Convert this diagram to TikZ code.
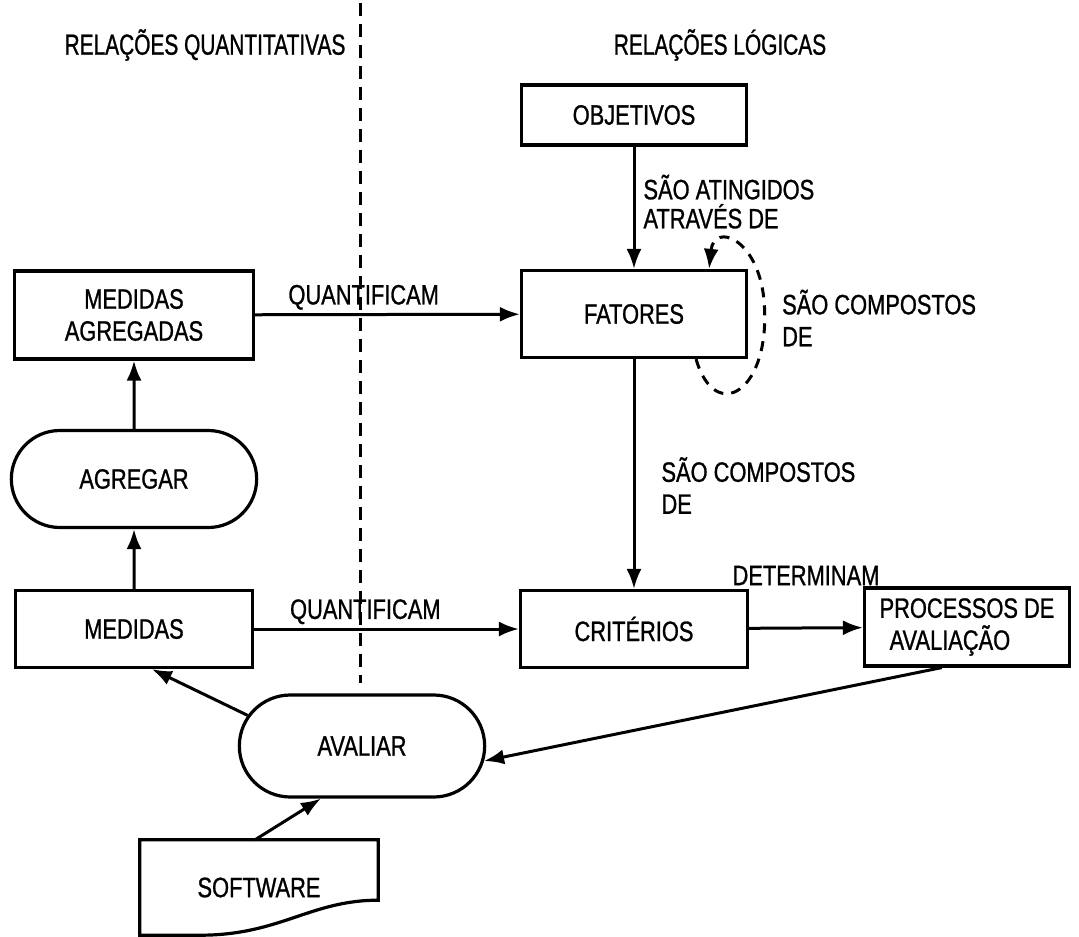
\documentclass[tikz,border=0pt]{standalone}
\usepackage{fontspec}
\setmainfont{Liberation Sans}[FakeStretch=0.78,FakeBold=0.9]
\newfontfamily\headfont{Liberation Sans}[FakeStretch=0.72,FakeBold=0.9]
\usetikzlibrary{arrows.meta,positioning,shapes.misc,calc}

\begin{document}
\begin{tikzpicture}[x=1pt,y=1pt,>=Latex,
      font=\fontsize{28}{32}\selectfont,
      box/.style={draw,line width=3.2pt,align=center,inner sep=3pt},
      proc/.style={draw,rounded rectangle,line width=3.2pt,align=center,
                   minimum width=252pt},
      rel/.style={-{Latex[length=20pt,width=15pt]},line width=3pt},
      lbl/.style={align=left,inner sep=2pt},
      head/.style={font=\headfont\fontsize{29}{32}\selectfont},
      divider/.style={line width=3pt,dash pattern=on 13pt off 8pt},
      selfloop/.style={rel,dash pattern=on 10pt off 8pt}]
    \useasboundingbox (0,0) rectangle (1079,-937);
    \node[head] (hquant) at (205,-45) {RELAÇÕES QUANTITATIVAS};
    \node[head] (hlog) at (720,-45) {RELAÇÕES LÓGICAS};
    \draw[divider] (360,-3) -- (360,-683);

    % coluna logica
    \node[box,minimum width=225pt,minimum height=60pt] (objetivos) at (634,-115) {OBJETIVOS};
    \node[box,minimum width=225pt,minimum height=87pt] (fatores) at (634,-314) {FATORES};
    \node[box,minimum width=227pt,minimum height=77pt] (criterios) at (634,-629) {CRITÉRIOS};
    \node[box,minimum width=205pt,minimum height=78pt,align=left] (processos) at (967,-627)
         {PROCESSOS DE\\\hspace*{10pt}AVALIAÇÃO};
    \draw[rel] (objetivos) -- node[lbl,right=6pt,pos=.45,font=\fontsize{28}{29}\selectfont]
         {SÃO ATINGIDOS\\ATRAVÉS DE} (fatores);
    \draw[rel] (fatores) -- node[lbl,right=24pt,pos=.55] {SÃO COMPOSTOS\\DE} (criterios);
    \draw[selfloop] (fatores.324) .. controls (715,-425) and (772,-392) .. (764,-300)
         .. controls (758,-238) and (714,-222) .. (fatores.31);
    \node[lbl,anchor=west] (lblloop) at (780,-318) {SÃO COMPOSTOS\\DE};
    \draw[rel] (criterios) -- node[above=38pt] {DETERMINAM} (processos);

    % coluna quantitativa
    \node[box,minimum width=239pt,minimum height=88pt] (medagreg) at (134,-315) {MEDIDAS\\AGREGADAS};
    \node[proc,minimum height=97pt] (agregar) at (134,-479) {AGREGAR};
    \node[box,minimum width=237pt,minimum height=77pt] (medidas) at (134,-629) {MEDIDAS};
    \node[proc,minimum height=102pt] (avaliar) at (362,-746) {AVALIAR};
    \draw[rel] (medagreg) -- node[above,pos=.41] {QUANTIFICAM} (fatores);
    \draw[rel] (medidas) -- node[above,pos=.42] {QUANTIFICAM} (criterios);
    \draw[rel] (agregar) -- (medagreg);
    \draw[rel] (medidas) -- (agregar);
    \draw[rel] (avaliar.165) -- (medidas.294);
    \draw[rel] (processos.238) -- (avaliar.353);

    % documento
    \node[minimum width=238pt,minimum height=95pt,inner sep=0pt] (software) at (259,-887.5) {SOFTWARE};
    \draw[line width=3.2pt] (software.north west) -- (software.north east)
         -- ($(software.south east)+(0,35)$)
         .. controls ($(software.south east)+(-68,35)$) and ($(software.south)+(21,0)$) .. ($(software.south)+(-59,0)$)
         -- (software.south west) -- cycle;
    \draw[rel] ([xshift=-4pt]software.north) -- (avaliar.232);
\end{tikzpicture}
\end{document}
